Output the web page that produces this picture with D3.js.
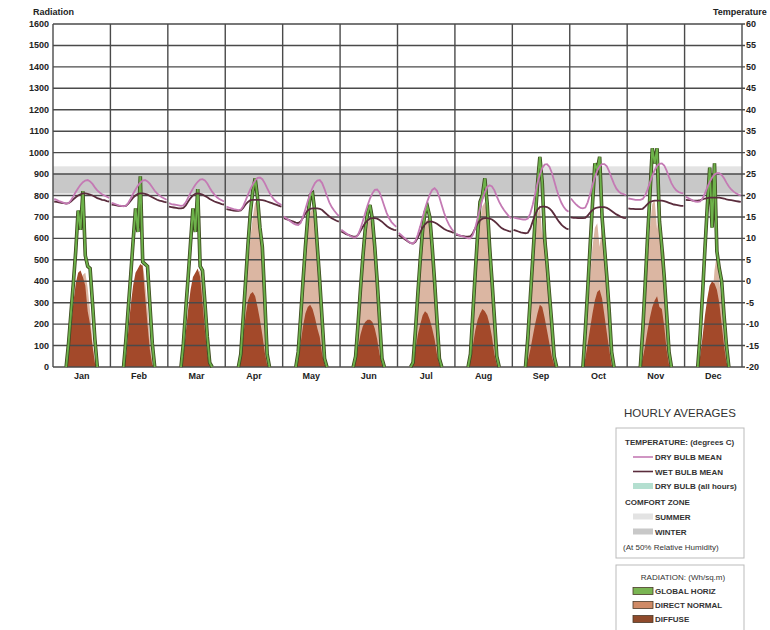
<!DOCTYPE html>
<html lang="en">
<head>
<meta charset="UTF-8">
<title>Hourly averages</title>
<script src="https://d3js.org/d3.v7.min.js"></script>
<style>
    body { margin: 0; background: #fff; }
    svg { font-family: "Liberation Sans", Arial, sans-serif; }
    .ax { font-size: 9px; font-weight: bold; fill: #222; }
    .lg { font-size: 8px; font-weight: bold; fill: #333; }
</style>
</head>
<body>
<div class="container"></div>
<script>
    const months = ["Jan","Feb","Mar","Apr","May","Jun","Jul","Aug","Sep","Oct","Nov","Dec"];
    const radTicks = d3.range(0, 1601, 100);
    const tempTicks = d3.range(-20, 61, 5);

    // comfort zones (degrees C)
    const summerZone = [20.5, 26.8];
    const winterZone = [20.5, 25];

    // hourly means, one row of 24 hours per month (degrees C)
    const dryBulb = [
        [19.2,19.0,18.7,18.5,18.3,18.1,18.2,18.9,19.8,20.8,21.7,22.5,23.1,23.5,23.6,23.3,22.7,21.9,21.2,20.7,20.3,20.0,19.7,19.4],
        [18.3,18.1,17.9,17.7,17.6,17.5,17.6,18.3,19.3,20.4,21.4,22.3,23.0,23.5,23.6,23.3,22.7,21.9,21.1,20.5,20.0,19.6,19.3,19.0],
        [18.2,18.0,17.9,17.8,17.7,17.6,17.7,18.4,19.5,20.6,21.6,22.5,23.2,23.7,23.8,23.5,22.8,21.8,20.9,20.2,19.6,19.2,18.9,18.6],
        [17.4,17.2,17.0,16.8,16.7,16.6,16.7,17.5,18.8,20.2,21.5,22.6,23.5,24.1,24.2,23.8,22.9,21.7,20.6,19.7,19.0,18.5,18.1,17.8],
        [15.1,14.7,14.3,13.9,13.5,13.2,13.1,13.6,15.0,16.8,18.7,20.4,21.8,22.9,23.5,23.6,22.9,21.5,19.9,18.4,17.3,16.5,15.8,15.2],
        [12.0,11.6,11.2,10.8,10.5,10.2,10.2,10.8,12.2,14.0,15.9,17.7,19.3,20.5,21.3,21.4,20.7,19.2,17.5,15.9,14.7,13.8,13.2,12.7],
        [11.3,10.8,10.3,9.8,9.3,8.9,8.8,9.4,10.9,12.8,14.9,16.9,18.7,20.2,21.3,21.7,21.1,19.6,17.7,15.9,14.4,13.2,12.3,11.6],
        [11.1,10.8,10.6,10.4,10.2,10.0,10.0,10.8,12.5,14.7,17.0,19.1,20.8,22.0,22.4,22.1,21.2,19.8,18.5,17.5,16.6,15.9,15.2,14.7],
        [14.9,14.7,14.6,14.5,14.4,14.4,14.6,15.8,17.8,20.3,22.8,24.9,26.4,27.2,27.3,26.7,25.3,23.4,21.4,19.7,18.3,17.3,16.6,16.2],
        [19.3,18.6,18.0,17.5,17.1,17.0,17.2,18.4,20.3,22.4,24.3,25.8,26.8,27.3,27.3,26.8,25.6,24.1,22.7,21.6,20.9,20.5,20.3,20.1],
        [19.3,19.2,19.1,19.0,19.0,19.0,19.2,20.0,21.4,23.0,24.6,25.9,26.9,27.4,27.5,27.0,25.8,24.3,22.9,21.9,21.2,20.8,20.6,20.5],
        [19.7,19.4,19.1,18.8,18.6,18.5,18.6,19.3,20.5,21.9,23.2,24.2,24.9,25.2,25.2,24.8,24.0,23.0,22.1,21.4,20.9,20.5,20.2,20.0]
    ];
    const wetBulb = [
        [18.6,18.5,18.4,18.3,18.2,18.1,18.2,18.6,19.1,19.6,20.0,20.3,20.5,20.5,20.4,20.2,20.0,19.7,19.4,19.2,19.0,18.9,18.7,18.6],
        [17.9,17.8,17.7,17.6,17.5,17.5,17.6,18.1,18.8,19.5,20.0,20.4,20.5,20.5,20.4,20.2,19.9,19.6,19.3,19.0,18.8,18.7,18.5,18.4],
        [17.4,17.3,17.2,17.1,17.0,17.0,17.1,17.7,18.6,19.4,20.0,20.4,20.5,20.4,20.2,19.9,19.6,19.2,18.9,18.6,18.4,18.2,18.0,17.9],
        [16.8,16.7,16.6,16.5,16.4,16.4,16.5,17.1,17.9,18.5,18.9,19.0,19.0,19.0,19.0,18.9,18.8,18.6,18.4,18.2,18.0,17.8,17.6,17.4],
        [14.7,14.5,14.3,14.1,13.9,13.7,13.6,13.9,14.8,15.8,16.5,16.9,17.0,17.0,17.0,16.9,16.6,16.1,15.6,15.1,14.7,14.4,14.1,13.9],
        [11.6,11.3,11.0,10.8,10.6,10.4,10.4,10.8,11.7,12.7,13.6,14.2,14.6,14.7,14.7,14.6,14.3,13.9,13.4,12.9,12.5,12.2,12.0,11.9],
        [10.8,10.4,10.0,9.6,9.2,8.9,8.8,9.2,10.2,11.4,12.5,13.3,13.8,13.9,13.9,13.7,13.4,13.0,12.6,12.2,11.9,11.7,11.5,11.3],
        [10.8,10.7,10.6,10.5,10.4,10.4,10.5,11.2,12.4,13.5,14.2,14.6,14.7,14.7,14.6,14.4,14.0,13.5,12.9,12.4,12.1,11.9,11.7,11.6],
        [12.0,11.8,11.6,11.4,11.3,11.2,11.3,12.3,13.9,15.5,16.7,17.3,17.4,17.4,17.3,17.0,16.4,15.6,14.7,13.9,13.2,12.7,12.3,12.1],
        [14.9,14.8,14.8,14.7,14.7,14.7,14.8,15.3,16.0,16.6,17.0,17.2,17.3,17.3,17.3,17.1,16.8,16.4,16.0,15.6,15.3,15.0,14.8,14.7],
        [17.0,16.9,16.9,16.8,16.8,16.8,16.9,17.4,18.0,18.5,18.7,18.8,18.8,18.8,18.8,18.7,18.5,18.3,18.1,17.9,17.8,17.7,17.6,17.6],
        [19.0,18.9,18.9,18.8,18.8,18.8,18.9,19.1,19.3,19.4,19.5,19.5,19.5,19.5,19.5,19.4,19.3,19.1,19.0,18.9,18.8,18.7,18.6,18.5]
    ];

    // hourly radiation (Wh/sq.m)
    const globalHoriz = [
        [0,0,0,0,0,0,110,250,390,540,730,640,820,520,470,460,300,130,0,0,0,0,0,0],
        [0,0,0,0,0,0,130,280,430,590,740,630,890,490,480,470,290,110,0,0,0,0,0,0],
        [0,0,0,0,0,0,110,270,420,580,740,630,830,470,450,300,140,20,0,0,0,0,0,0],
        [0,0,0,0,0,0,60,230,400,570,720,820,880,790,650,560,320,60,0,0,0,0,0,0],
        [0,0,0,0,0,0,70,230,400,560,700,800,810,720,560,400,220,40,0,0,0,0,0,0],
        [0,0,0,0,0,0,50,200,360,510,640,720,756,690,560,400,220,40,0,0,0,0,0,0],
        [0,0,0,0,0,0,20,170,340,500,640,720,748,700,560,400,220,40,0,0,0,0,0,0],
        [0,0,0,0,0,0,60,250,440,620,770,800,880,760,560,400,230,50,0,0,0,0,0,0],
        [0,0,0,0,0,0,140,320,500,680,850,980,860,600,480,340,200,50,0,0,0,0,0,0],
        [0,0,0,0,0,0,170,360,560,760,950,920,980,700,560,420,260,70,0,0,0,0,0,0],
        [0,0,0,0,0,0,170,380,600,800,1020,950,1020,680,560,420,250,70,0,0,0,0,0,0],
        [0,0,0,0,0,0,150,340,550,750,930,650,950,540,460,400,240,100,0,0,0,0,0,0]
    ];
    const directNormal = [
        [0,0,0,0,0,0,20,80,160,250,330,380,430,440,370,260,120,20,0,0,0,0,0,0],
        [0,0,0,0,0,0,20,90,180,280,360,420,470,480,400,280,130,20,0,0,0,0,0,0],
        [0,0,0,0,0,0,20,90,180,270,350,400,440,450,370,250,100,10,0,0,0,0,0,0],
        [0,0,0,0,0,0,30,170,330,480,600,700,770,760,620,540,280,40,0,0,0,0,0,0],
        [0,0,0,0,0,0,40,200,370,520,640,720,740,680,580,500,220,30,0,0,0,0,0,0],
        [0,0,0,0,0,0,30,170,330,470,590,670,690,660,560,420,200,30,0,0,0,0,0,0],
        [0,0,0,0,0,0,10,140,310,460,590,670,690,680,560,450,210,30,0,0,0,0,0,0],
        [0,0,0,0,0,0,40,220,400,560,680,750,770,720,600,460,220,40,0,0,0,0,0,0],
        [0,0,0,0,0,0,80,260,440,590,700,760,610,740,560,400,200,30,0,0,0,0,0,0],
        [0,0,0,0,0,0,80,250,420,560,650,670,560,660,560,420,240,50,0,0,0,0,0,0],
        [0,0,0,0,0,0,100,300,500,650,760,780,640,770,560,540,250,40,0,0,0,0,0,0],
        [0,0,0,0,0,0,30,110,200,300,380,300,450,530,400,300,140,30,0,0,0,0,0,0]
    ];
    const diffuse = [
        [0,0,0,0,0,0,60,180,300,390,440,450,420,380,260,200,100,20,0,0,0,0,0,0],
        [0,0,0,0,0,0,50,170,290,380,440,460,480,470,330,200,80,10,0,0,0,0,0,0],
        [0,0,0,0,0,0,50,160,270,360,420,440,460,420,300,170,60,0,0,0,0,0,0,0],
        [0,0,0,0,0,0,40,140,240,310,340,350,330,280,220,150,70,10,0,0,0,0,0,0],
        [0,0,0,0,0,0,30,110,190,250,280,290,270,230,180,140,60,10,0,0,0,0,0,0],
        [0,0,0,0,0,0,20,90,150,190,210,220,220,210,180,130,60,10,0,0,0,0,0,0],
        [0,0,0,0,0,0,10,80,150,200,240,260,250,220,180,130,60,10,0,0,0,0,0,0],
        [0,0,0,0,0,0,30,100,170,220,250,270,260,240,200,140,60,10,0,0,0,0,0,0],
        [0,0,0,0,0,0,30,80,140,200,250,290,280,230,170,110,50,10,0,0,0,0,0,0],
        [0,0,0,0,0,0,40,110,180,250,310,350,360,320,240,160,80,10,0,0,0,0,0,0],
        [0,0,0,0,0,0,40,100,170,230,280,310,330,280,270,190,80,10,0,0,0,0,0,0],
        [0,0,0,0,0,0,50,140,240,320,380,400,390,360,300,200,100,20,0,0,0,0,0,0]
    ];

    const W = 770, H = 630;
    const svg = d3.select(".container").append("svg")
        .attr("width", W).attr("height", H);

    const plotL = 53, plotR = 742, plotT = 24, plotB = 367;
    const x = d3.scaleLinear().domain([0, 12 * 24]).range([plotL, plotR]);
    const yR = d3.scaleLinear().domain([0, 1600]).range([plotB, plotT]);
    const yT = d3.scaleLinear().domain([-20, 60]).range([plotB, plotT]);
    const hx = (m, h) => x(m * 24 + h + 0.5);

    // comfort zones
    svg.append("rect").attr("x", plotL).attr("width", plotR - plotL)
        .attr("y", yT(summerZone[1])).attr("height", yT(summerZone[0]) - yT(summerZone[1]))
        .attr("fill", "#e3e3e3");
    svg.append("rect").attr("x", plotL).attr("width", plotR - plotL)
        .attr("y", yT(winterZone[1])).attr("height", yT(winterZone[0]) - yT(winterZone[1]))
        .attr("fill", "#c8c8c8");

    // radiation fills
    const sunIdx = arr => arr.map((v, i) => i).filter(i => arr[i] > 0 || arr[i - 1] > 0 || arr[i + 1] > 0);
    const rad = svg.append("g");
    function radArea(data, fill) {
        data.forEach((row, m) => {
            const idx = sunIdx(row);
            rad.append("path")
                .datum(idx)
                .attr("fill", fill)
                .attr("d", d3.area().x(i => hx(m, i)).y0(plotB).y1(i => yR(row[i])));
        });
    }
    radArea(directNormal, "#dbb6a2");
    radArea(diffuse, "#a3492a");

    // grid
    const grid = svg.append("g").attr("stroke", "#4a4a4a").attr("stroke-width", 1.4);
    grid.selectAll(".h").data(radTicks).join("line")
        .attr("x1", plotL).attr("x2", plotR + 3)
        .attr("y1", d => yR(d)).attr("y2", d => yR(d));
    grid.selectAll(".v").data(d3.range(0, 13)).join("line")
        .attr("x1", d => x(d * 24)).attr("x2", d => x(d * 24))
        .attr("y1", plotT).attr("y2", plotB);

    // global horizontal line
    globalHoriz.forEach((row, m) => {
        const idx = sunIdx(row);
        const line = d3.line().x(i => hx(m, i)).y(i => yR(row[i]));
        svg.append("path").datum(idx).attr("d", line)
            .attr("fill", "none").attr("stroke", "#3d4a1f").attr("stroke-width", 3.6);
        svg.append("path").datum(idx).attr("d", line)
            .attr("fill", "none").attr("stroke", "#6db24a").attr("stroke-width", 1.9);
    });

    // temperature lines
    function tempLine(data, color) {
        data.forEach((row, m) => {
            svg.append("path").datum(row)
                .attr("fill", "none").attr("stroke", color).attr("stroke-width", 1.8)
                .attr("d", d3.line().x((d, i) => hx(m, i)).y(d => yT(d)));
        });
    }
    tempLine(wetBulb, "#5a2c3c");
    tempLine(dryBulb, "#c47ab4");

    // axes labels
    svg.append("g").selectAll("text").data(radTicks).join("text")
        .attr("class", "ax").attr("x", 49).attr("y", d => yR(d) + 3)
        .attr("text-anchor", "end").text(d => d);
    svg.append("g").selectAll("text").data(tempTicks).join("text")
        .attr("class", "ax").attr("x", 746).attr("y", d => yT(d) + 3)
        .text(d => d);
    svg.append("g").selectAll("text").data(months).join("text")
        .attr("class", "ax").attr("x", (d, i) => x(i * 24 + 12)).attr("y", 379)
        .attr("text-anchor", "middle").text(d => d);
    svg.append("text").attr("class", "ax").attr("x", 33).attr("y", 15).text("Radiation");
    svg.append("text").attr("class", "ax").attr("x", 713).attr("y", 15).text("Temperature");

    // legend
    const lg = svg.append("g");
    lg.append("text").attr("x", 680).attr("y", 417).attr("text-anchor", "middle")
        .attr("font-size", 11.5).attr("fill", "#333").text("HOURLY AVERAGES");
    lg.append("rect").attr("x", 616).attr("y", 428).attr("width", 128).attr("height", 130)
        .attr("fill", "none").attr("stroke", "#bbb");
    lg.append("rect").attr("x", 616).attr("y", 565).attr("width", 128).attr("height", 80)
        .attr("fill", "none").attr("stroke", "#bbb");

    const tItems = [
        {label: "TEMPERATURE: (degrees C)", y: 442, x: 625},
        {label: "DRY BULB MEAN", y: 457, line: "#c47ab4"},
        {label: "WET BULB MEAN", y: 471.5, line: "#5a2c3c"},
        {label: "DRY BULB (all hours)", y: 486, box: "#b4dfd0"},
        {label: "COMFORT ZONE", y: 501.5, x: 625},
        {label: "SUMMER", y: 516.5, box: "#e3e3e3"},
        {label: "WINTER", y: 531.5, box: "#c8c8c8"},
        {label: "(At 50% Relative Humidity)", y: 546.5, x: 623, normal: true}
    ];
    tItems.forEach(d => {
        if (d.line) lg.append("line").attr("x1", 633).attr("x2", 653).attr("y1", d.y).attr("y2", d.y)
            .attr("stroke", d.line).attr("stroke-width", 1.6);
        if (d.box) lg.append("rect").attr("x", 633).attr("y", d.y - 3).attr("width", 20).attr("height", 6)
            .attr("fill", d.box);
        lg.append("text").attr("class", "lg").attr("x", d.x || 655).attr("y", d.y + 3)
            .style("font-weight", d.normal ? "normal" : "bold").text(d.label);
    });

    lg.append("text").attr("class", "lg").attr("x", 683).attr("y", 580)
        .attr("text-anchor", "middle").style("font-weight", "normal").text("RADIATION: (Wh/sq.m)");
    const rItems = [
        {label: "GLOBAL HORIZ", y: 591, fill: "#7ab553"},
        {label: "DIRECT NORMAL", y: 605, fill: "#cf8a66"},
        {label: "DIFFUSE", y: 619, fill: "#8f4a2b"}
    ];
    rItems.forEach(d => {
        lg.append("rect").attr("x", 633).attr("y", d.y - 3.5).attr("width", 20).attr("height", 7)
            .attr("fill", d.fill).attr("stroke", "#4a3a2a").attr("stroke-width", 0.8);
        lg.append("text").attr("class", "lg").attr("x", 655).attr("y", d.y + 3).text(d.label);
    });
</script>
</body>
</html>
